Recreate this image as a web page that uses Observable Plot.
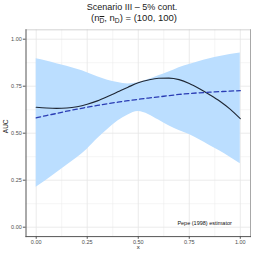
<!DOCTYPE html>
<html>
<head>
<meta charset="utf-8">
<script src="https://cdn.jsdelivr.net/npm/d3@7"></script>
<script src="https://cdn.jsdelivr.net/npm/@observablehq/plot@0.6"></script>
<style>
  html, body { margin: 0; padding: 0; background: #fff; }
  #wrap { position: relative; width: 254px; height: 254px; font-family: "Liberation Sans", Arial, sans-serif; }
  .t { position: absolute; left: 0; width: 254px; text-align: center; line-height: 1; color: #1a1a1a; white-space: nowrap; box-sizing: border-box; }
  #title { top: 2.9px; font-size: 9px; padding-left: 10px; }
  #subtitle { top: 13.4px; font-size: 9.5px; padding-left: 14px; }
  #subtitle sub { font-size: 70%; vertical-align: -0.25em; line-height: 0; }
  #chart { position: absolute; left: 0; top: 0; }
</style>
</head>
<body>
<div id="wrap">
  <div id="chart"></div>
  <div class="t" id="title">Scenario III – 5% cont.</div>
  <div class="t" id="subtitle">(n<sub><span style="text-decoration:overline">D</span></sub>, n<sub>D</sub>) = (100, 100)</div>
</div>
<script>
const xs      = [0, 0.05, 0.1, 0.15, 0.2, 0.25, 0.3, 0.35, 0.4, 0.45, 0.5, 0.55, 0.6, 0.65, 0.7, 0.75, 0.8, 0.85, 0.9, 0.95, 1.0];
const solid   = [0.638, 0.634, 0.632, 0.634, 0.641, 0.654, 0.672, 0.695, 0.720, 0.745, 0.768, 0.783, 0.792, 0.793, 0.785, 0.765, 0.737, 0.705, 0.670, 0.628, 0.577];
const dashed  = [0.582, 0.594, 0.605, 0.617, 0.628, 0.638, 0.648, 0.657, 0.665, 0.673, 0.680, 0.687, 0.693, 0.700, 0.706, 0.711, 0.715, 0.718, 0.721, 0.724, 0.726];
const upper   = [0.896, 0.884, 0.870, 0.856, 0.840, 0.822, 0.800, 0.782, 0.770, 0.762, 0.768, 0.785, 0.805, 0.825, 0.848, 0.866, 0.882, 0.896, 0.908, 0.918, 0.926];
const lower   = [0.213, 0.250, 0.290, 0.330, 0.370, 0.415, 0.470, 0.520, 0.565, 0.597, 0.615, 0.600, 0.570, 0.540, 0.515, 0.493, 0.465, 0.435, 0.405, 0.372, 0.337];
const majorTicks = [0, 0.25, 0.5, 0.75, 1];
const minorTicks = [0.125, 0.375, 0.625, 0.875];
const annot = [{x: 0.825, y: 0.02, label: "Pepe (1998) estimator"}];
const xLabel = "x";
const yLabel = "AUC";

const rows = xs.map((x, i) => ({x, solid: solid[i], dashed: dashed[i], upper: upper[i], lower: lower[i]}));

const plot = Plot.plot({
  width: 254,
  height: 254,
  marginLeft: 25.5,
  marginRight: 4,
  marginTop: 29.3,
  marginBottom: 17.9,
  style: {fontFamily: "Liberation Sans, Arial, sans-serif", background: "#fff"},
  x: {domain: [-0.05, 1.05]},
  y: {domain: [-0.05, 1.05]},
  marks: [
    Plot.gridX(minorTicks, {stroke: "#ebebeb", strokeOpacity: 1, strokeWidth: 0.5}),
    Plot.gridY(minorTicks, {stroke: "#ebebeb", strokeOpacity: 1, strokeWidth: 0.5}),
    Plot.gridX(majorTicks, {stroke: "#e6e6e6", strokeOpacity: 1, strokeWidth: 0.8}),
    Plot.gridY(majorTicks, {stroke: "#e6e6e6", strokeOpacity: 1, strokeWidth: 0.8}),
    Plot.areaY(rows, {x: "x", y1: "lower", y2: "upper", fill: "#bbdeff", curve: "monotone-x"}),
    Plot.lineY(rows, {x: "x", y: "solid", stroke: "#1e2633", strokeWidth: 1.1, curve: "monotone-x"}),
    Plot.lineY(rows, {x: "x", y: "dashed", stroke: "#2a3cb4", strokeWidth: 1.3, strokeDasharray: "4.5,3", curve: "monotone-x"}),
    Plot.text(annot, {x: "x", y: "y", text: "label", fontSize: 5.5, fill: "#111"}),
    Plot.frame({anchor: "top", stroke: "#c8c8c8", strokeWidth: 0.8}),
    Plot.frame({anchor: "right", stroke: "#a8a8a8", strokeWidth: 1}),
    Plot.frame({anchor: "left", stroke: "#555", strokeWidth: 1}),
    Plot.frame({anchor: "bottom", stroke: "#555", strokeWidth: 1}),
    Plot.axisX(majorTicks, {tickFormat: d3.format(".2f"), tickSize: 2.7, tickPadding: 1.2, fontSize: 5.5, color: "#4d4d4d", stroke: "#555", label: null}),
    Plot.axisY(majorTicks, {tickFormat: d3.format(".2f"), tickSize: 2.7, tickPadding: 1.5, fontSize: 5.5, color: "#4d4d4d", stroke: "#555", label: null}),
    Plot.text([xLabel], {frameAnchor: "bottom", dy: 12.3, text: d => d, fontSize: 6, fill: "#1a1a1a"}),
    Plot.text([yLabel], {frameAnchor: "left", dx: -20.5, rotate: -90, text: d => d, fontSize: 6.5, fill: "#1a1a1a"})
  ]
});
document.getElementById("chart").appendChild(plot);
</script>
</body>
</html>
